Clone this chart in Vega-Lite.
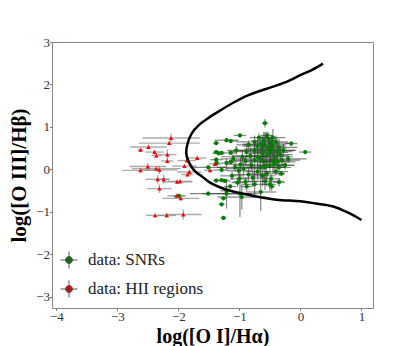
{
 "$schema": "https://vega.github.io/schema/vega-lite/v6.json",
 "width": 321, "height": 266, "autosize": "none",
 "padding": {"left": 52, "top": 42, "right": 42, "bottom": 38},
 "background": "white",
 "config": {
  "view": {"stroke": "#888", "strokeWidth": 1},
  "axis": {"domain": false, "grid": false, "tickColor": "#777", "tickSize": 2.5, "labelFont": "Liberation Serif", "labelFontSize": 13, "labelColor": "#333", "labelPadding": 0, "format": "d", "titleFont": "Liberation Serif", "titleFontSize": 20, "titleFontWeight": "bold", "titleColor": "#000"},
  "axisX": {"titleY": 34, "titleBaseline": "alphabetic"},
  "axisY": {"titlePadding": 6, "titleFontSize": 21},
  "legend": {"labelFont": "Liberation Serif", "labelFontSize": 17, "labelColor": "#222", "symbolSize": 289, "symbolType": "M-1,0L1,0M0,-1L0,1M0.4,0A0.4,0.4,0,1,1,-0.4,0A0.4,0.4,0,1,1,0.4,0Z", "symbolStrokeColor": "#444", "symbolStrokeWidth": 0.9, "symbolOpacity": 1, "rowPadding": 7, "labelOffset": 10}
 },
 "datasets": {
  "pts": [
   {"s":"data: SNRs","x":-0.58,"y":1.09,"xe":0.05,"ye":0.1},
   {"s":"data: SNRs","x":-0.99,"y":0.80,"xe":0.1,"ye":0.05},
   {"s":"data: SNRs","x":-1.38,"y":0.62,"xe":0.05,"ye":0.05},
   {"s":"data: SNRs","x":-1.21,"y":0.69,"xe":0.2,"ye":0.05},
   {"s":"data: SNRs","x":-1.14,"y":0.67,"xe":0.1,"ye":0.05},
   {"s":"data: SNRs","x":-0.15,"y":0.61,"xe":0.1,"ye":0.05},
   {"s":"data: SNRs","x":0.08,"y":0.41,"xe":0.1,"ye":0.05},
   {"s":"data: SNRs","x":-1.34,"y":0.38,"xe":0.1,"ye":0.05},
   {"s":"data: SNRs","x":-1.29,"y":0.39,"xe":0.05,"ye":0.05},
   {"s":"data: SNRs","x":-1.38,"y":0.41,"xe":0.05,"ye":0.05},
   {"s":"data: SNRs","x":-1.14,"y":0.39,"xe":0.1,"ye":0.05},
   {"s":"data: SNRs","x":-1.38,"y":0.23,"xe":0.1,"ye":0.05},
   {"s":"data: SNRs","x":-1.37,"y":0.15,"xe":0.05,"ye":0.05},
   {"s":"data: SNRs","x":-1.21,"y":0.15,"xe":0.1,"ye":0.1},
   {"s":"data: SNRs","x":-1.14,"y":0.18,"xe":0.1,"ye":0.05},
   {"s":"data: SNRs","x":-1.29,"y":-0.01,"xe":0.1,"ye":0.05},
   {"s":"data: SNRs","x":-1.07,"y":0.05,"xe":0.3,"ye":0.1},
   {"s":"data: SNRs","x":-1.01,"y":-0.03,"xe":0.2,"ye":0.1},
   {"s":"data: SNRs","x":-0.93,"y":0.02,"xe":0.3,"ye":0.15},
   {"s":"data: SNRs","x":-1.38,"y":-0.26,"xe":0.05,"ye":0.05},
   {"s":"data: SNRs","x":-1.29,"y":-0.25,"xe":0.1,"ye":0.05},
   {"s":"data: SNRs","x":-1.24,"y":-0.27,"xe":0.1,"ye":0.05},
   {"s":"data: SNRs","x":-1.0,"y":-0.22,"xe":0.15,"ye":0.1},
   {"s":"data: SNRs","x":-1.03,"y":-0.31,"xe":0.1,"ye":0.1},
   {"s":"data: SNRs","x":-0.90,"y":-0.29,"xe":0.2,"ye":0.1},
   {"s":"data: SNRs","x":-1.21,"y":-0.50,"xe":0.1,"ye":0.1},
   {"s":"data: SNRs","x":-1.15,"y":-0.40,"xe":0.1,"ye":0.05},
   {"s":"data: SNRs","x":-1.51,"y":-0.57,"xe":0.3,"ye":0.05},
   {"s":"data: SNRs","x":-1.51,"y":0.05,"xe":0.3,"ye":0.05},
   {"s":"data: SNRs","x":-1.99,"y":-0.62,"xe":0.1,"ye":0.05},
   {"s":"data: SNRs","x":-1.21,"y":-0.57,"xe":0.4,"ye":0.35},
   {"s":"data: SNRs","x":-0.99,"y":-0.57,"xe":0.3,"ye":0.55},
   {"s":"data: SNRs","x":-0.96,"y":-0.65,"xe":0.4,"ye":0.3},
   {"s":"data: SNRs","x":-0.65,"y":-0.53,"xe":0.25,"ye":0.45},
   {"s":"data: SNRs","x":-1.26,"y":-0.68,"xe":0.05,"ye":0.05},
   {"s":"data: SNRs","x":-1.29,"y":-0.82,"xe":0.05,"ye":0.05},
   {"s":"data: SNRs","x":-1.26,"y":-1.14,"xe":0.05,"ye":0.05},
   {"s":"data: SNRs","x":-0.48,"y":-0.22,"xe":0.15,"ye":0.1},
   {"s":"data: SNRs","x":-0.47,"y":-0.40,"xe":0.05,"ye":0.1},
   {"s":"data: SNRs","x":-0.31,"y":-0.10,"xe":0.05,"ye":0.05},
   {"s":"data: SNRs","x":-0.75,"y":-0.35,"xe":0.2,"ye":0.3},
   {"s":"data: SNRs","x":-0.58,"y":-0.28,"xe":0.3,"ye":0.2},
   {"s":"data: SNRs","x":-0.85,"y":-0.12,"xe":0.3,"ye":0.15},
   {"s":"data: SNRs","x":-0.70,"y":-0.05,"xe":0.2,"ye":0.2},
   {"s":"data: SNRs","x":-0.55,"y":-0.10,"xe":0.3,"ye":0.3},
   {"s":"data: SNRs","x":-0.40,"y":-0.05,"xe":0.2,"ye":0.1},
   {"s":"data: SNRs","x":-0.65,"y":0.05,"xe":0.4,"ye":0.2},
   {"s":"data: SNRs","x":-0.80,"y":0.10,"xe":0.3,"ye":0.15},
   {"s":"data: SNRs","x":-0.50,"y":0.10,"xe":0.4,"ye":0.2},
   {"s":"data: SNRs","x":-0.35,"y":0.05,"xe":0.2,"ye":0.2},
   {"s":"data: SNRs","x":-0.25,"y":0.10,"xe":0.15,"ye":0.1},
   {"s":"data: SNRs","x":-0.90,"y":0.20,"xe":0.2,"ye":0.1},
   {"s":"data: SNRs","x":-0.75,"y":0.22,"xe":0.35,"ye":0.3},
   {"s":"data: SNRs","x":-0.60,"y":0.18,"xe":0.3,"ye":0.2},
   {"s":"data: SNRs","x":-0.45,"y":0.20,"xe":0.3,"ye":0.3},
   {"s":"data: SNRs","x":-0.30,"y":0.22,"xe":0.3,"ye":0.15},
   {"s":"data: SNRs","x":-0.20,"y":0.25,"xe":0.3,"ye":0.1},
   {"s":"data: SNRs","x":-0.95,"y":0.30,"xe":0.35,"ye":0.15},
   {"s":"data: SNRs","x":-0.82,"y":0.32,"xe":0.3,"ye":0.2},
   {"s":"data: SNRs","x":-0.70,"y":0.30,"xe":0.4,"ye":0.3},
   {"s":"data: SNRs","x":-0.55,"y":0.32,"xe":0.35,"ye":0.25},
   {"s":"data: SNRs","x":-0.42,"y":0.30,"xe":0.3,"ye":0.2},
   {"s":"data: SNRs","x":-0.33,"y":0.35,"xe":0.2,"ye":0.15},
   {"s":"data: SNRs","x":-0.62,"y":0.38,"xe":0.3,"ye":0.2},
   {"s":"data: SNRs","x":-0.50,"y":0.40,"xe":0.3,"ye":0.25},
   {"s":"data: SNRs","x":-0.38,"y":0.42,"xe":0.25,"ye":0.2},
   {"s":"data: SNRs","x":-0.88,"y":0.42,"xe":0.3,"ye":0.15},
   {"s":"data: SNRs","x":-0.75,"y":0.45,"xe":0.35,"ye":0.2},
   {"s":"data: SNRs","x":-0.62,"y":0.48,"xe":0.3,"ye":0.3},
   {"s":"data: SNRs","x":-0.52,"y":0.50,"xe":0.3,"ye":0.2},
   {"s":"data: SNRs","x":-0.45,"y":0.55,"xe":0.2,"ye":0.25},
   {"s":"data: SNRs","x":-0.35,"y":0.52,"xe":0.3,"ye":0.2},
   {"s":"data: SNRs","x":-0.70,"y":0.55,"xe":0.25,"ye":0.2},
   {"s":"data: SNRs","x":-0.58,"y":0.58,"xe":0.35,"ye":0.3},
   {"s":"data: SNRs","x":-0.48,"y":0.62,"xe":0.3,"ye":0.2},
   {"s":"data: SNRs","x":-0.40,"y":0.65,"xe":0.2,"ye":0.15},
   {"s":"data: SNRs","x":-0.85,"y":0.58,"xe":0.2,"ye":0.1},
   {"s":"data: SNRs","x":-0.60,"y":0.68,"xe":0.2,"ye":0.2},
   {"s":"data: SNRs","x":-0.52,"y":0.72,"xe":0.15,"ye":0.15},
   {"s":"data: SNRs","x":-0.45,"y":0.75,"xe":0.2,"ye":0.2},
   {"s":"data: SNRs","x":-0.75,"y":0.65,"xe":0.3,"ye":0.15},
   {"s":"data: SNRs","x":-0.55,"y":0.80,"xe":0.1,"ye":0.1},
   {"s":"data: SNRs","x":-0.68,"y":0.75,"xe":0.15,"ye":0.1},
   {"s":"data: SNRs","x":-0.48,"y":0.45,"xe":0.4,"ye":0.3},
   {"s":"data: SNRs","x":-0.66,"y":0.25,"xe":0.3,"ye":0.3},
   {"s":"data: SNRs","x":-0.58,"y":0.05,"xe":0.3,"ye":0.25},
   {"s":"data: SNRs","x":-0.43,"y":0.12,"xe":0.2,"ye":0.2},
   {"s":"data: SNRs","x":-0.78,"y":-0.20,"xe":0.25,"ye":0.2},
   {"s":"data: SNRs","x":-0.62,"y":-0.15,"xe":0.2,"ye":0.25},
   {"s":"data: SNRs","x":-0.35,"y":-0.30,"xe":0.1,"ye":0.1},
   {"s":"data: SNRs","x":-1.05,"y":0.45,"xe":0.15,"ye":0.1},
   {"s":"data: SNRs","x":-1.10,"y":0.25,"xe":0.2,"ye":0.1},
   {"s":"data: SNRs","x":-0.98,"y":0.12,"xe":0.2,"ye":0.15},
   {"s":"data: SNRs","x":-0.65,"y":0.60,"xe":0.3,"ye":0.2},
   {"s":"data: SNRs","x":-0.38,"y":0.18,"xe":0.3,"ye":0.2},
   {"s":"data: SNRs","x":-0.28,"y":0.45,"xe":0.2,"ye":0.15},
   {"s":"data: SNRs","x":-0.50,"y":-0.35,"xe":0.1,"ye":0.15},
   {"s":"data: SNRs","x":-0.88,"y":-0.40,"xe":0.1,"ye":0.1},
   {"s":"data: SNRs","x":-1.12,"y":-0.15,"xe":0.2,"ye":0.1},
   {"s":"data: HII regions","x":-2.12,"y":0.74,"xe":0.47,"ye":0.1},
   {"s":"data: HII regions","x":-2.15,"y":0.62,"xe":0.5,"ye":0.05},
   {"s":"data: HII regions","x":-2.49,"y":0.53,"xe":0.3,"ye":0.05},
   {"s":"data: HII regions","x":-2.62,"y":0.46,"xe":0.05,"ye":0.05},
   {"s":"data: HII regions","x":-2.39,"y":0.41,"xe":0.15,"ye":0.05},
   {"s":"data: HII regions","x":-2.36,"y":0.33,"xe":0.08,"ye":0.05},
   {"s":"data: HII regions","x":-2.18,"y":0.35,"xe":0.15,"ye":0.12},
   {"s":"data: HII regions","x":-2.18,"y":0.20,"xe":0.1,"ye":0.05},
   {"s":"data: HII regions","x":-1.69,"y":0.27,"xe":0.15,"ye":0.05},
   {"s":"data: HII regions","x":-1.86,"y":0.21,"xe":0.15,"ye":0.05},
   {"s":"data: HII regions","x":-1.90,"y":0.08,"xe":0.2,"ye":0.05},
   {"s":"data: HII regions","x":-2.50,"y":0.07,"xe":0.3,"ye":0.08},
   {"s":"data: HII regions","x":-2.62,"y":-0.02,"xe":0.3,"ye":0.05},
   {"s":"data: HII regions","x":-2.36,"y":0.02,"xe":0.4,"ye":0.05},
   {"s":"data: HII regions","x":-2.31,"y":-0.01,"xe":0.3,"ye":0.1},
   {"s":"data: HII regions","x":-1.82,"y":-0.06,"xe":0.2,"ye":0.05},
   {"s":"data: HII regions","x":-1.85,"y":-0.12,"xe":0.1,"ye":0.05},
   {"s":"data: HII regions","x":-2.34,"y":-0.23,"xe":0.2,"ye":0.1},
   {"s":"data: HII regions","x":-2.24,"y":-0.23,"xe":0.1,"ye":0.1},
   {"s":"data: HII regions","x":-2.02,"y":-0.29,"xe":0.25,"ye":0.05},
   {"s":"data: HII regions","x":-1.97,"y":-0.28,"xe":0.2,"ye":0.05},
   {"s":"data: HII regions","x":-2.31,"y":-0.45,"xe":0.2,"ye":0.1},
   {"s":"data: HII regions","x":-2.03,"y":-0.62,"xe":0.15,"ye":0.05},
   {"s":"data: HII regions","x":-1.96,"y":-0.68,"xe":0.3,"ye":0.05},
   {"s":"data: HII regions","x":-2.38,"y":-1.08,"xe":0.15,"ye":0.05},
   {"s":"data: HII regions","x":-2.19,"y":-1.08,"xe":0.15,"ye":0.05},
   {"s":"data: HII regions","x":-1.92,"y":-1.06,"xe":0.3,"ye":0.12},
   {"s":"data: HII regions","x":-1.40,"y":0.13,"xe":0.1,"ye":0.05},
   {"s":"data: HII regions","x":-1.48,"y":-0.02,"xe":0.1,"ye":0.05}
  ],
  "curve": [
   {"i":0,"x":1.0,"y":-1.19},{"i":1,"x":0.8,"y":-1.03},{"i":2,"x":0.54,"y":-0.87},{"i":3,"x":0.25,"y":-0.80},
   {"i":4,"x":0.0,"y":-0.75},{"i":5,"x":-0.39,"y":-0.71},{"i":6,"x":-0.7,"y":-0.64},{"i":7,"x":-0.93,"y":-0.57},
   {"i":8,"x":-1.10,"y":-0.52},{"i":9,"x":-1.3,"y":-0.43},{"i":10,"x":-1.48,"y":-0.31},{"i":11,"x":-1.60,"y":-0.18},
   {"i":12,"x":-1.72,"y":-0.05},{"i":13,"x":-1.80,"y":0.10},{"i":14,"x":-1.85,"y":0.25},{"i":15,"x":-1.87,"y":0.40},
   {"i":16,"x":-1.85,"y":0.60},{"i":17,"x":-1.78,"y":0.85},{"i":18,"x":-1.66,"y":1.05},{"i":19,"x":-1.50,"y":1.22},
   {"i":20,"x":-1.30,"y":1.40},{"i":21,"x":-1.10,"y":1.57},{"i":22,"x":-0.85,"y":1.75},{"i":23,"x":-0.55,"y":1.90},
   {"i":24,"x":-0.25,"y":2.05},{"i":25,"x":0.0,"y":2.22},{"i":26,"x":0.2,"y":2.35},{"i":27,"x":0.37,"y":2.49}
  ]
 },
 "layer": [
  {"data": {"name": "pts"}, "transform": [{"filter": "datum.s == 'data: SNRs'"}],
   "mark": {"type": "errorbar", "color": "#333", "opacity": 0.6, "thickness": 1.2},
   "encoding": {"x": {"field": "x", "type": "quantitative", "scale": {"domain": [-4.07, 1.19], "nice": false, "zero": false}, "axis": {"values": [-4,-3,-2,-1,0,1]}, "title": "log([O I]/Hα)"},
    "xError": {"field": "xe"},
    "y": {"field": "y", "type": "quantitative", "scale": {"domain": [-3.26, 3.0], "nice": false, "zero": false}, "axis": {"values": [-3,-2,-1,0,1,2,3]}, "title": "log([O III]/Hβ)"}}},
  {"data": {"name": "pts"}, "transform": [{"filter": "datum.s == 'data: SNRs'"}],
   "mark": {"type": "errorbar", "color": "#333", "opacity": 0.6, "thickness": 1.2},
   "encoding": {"x": {"field": "x", "type": "quantitative", "title": "log([O I]/Hα)"},
    "y": {"field": "y", "type": "quantitative", "title": "log([O III]/Hβ)"},
    "yError": {"field": "ye"}}},
  {"data": {"name": "pts"}, "transform": [{"filter": "datum.s == 'data: HII regions'"}],
   "mark": {"type": "errorbar", "color": "#888", "opacity": 0.7, "thickness": 1.4},
   "encoding": {"x": {"field": "x", "type": "quantitative", "title": "log([O I]/Hα)"},
    "xError": {"field": "xe"},
    "y": {"field": "y", "type": "quantitative", "title": "log([O III]/Hβ)"}}},
  {"data": {"name": "pts"}, "transform": [{"filter": "datum.s == 'data: HII regions'"}],
   "mark": {"type": "errorbar", "color": "#888", "opacity": 0.7, "thickness": 1.4},
   "encoding": {"x": {"field": "x", "type": "quantitative", "title": "log([O I]/Hα)"},
    "y": {"field": "y", "type": "quantitative", "title": "log([O III]/Hβ)"},
    "yError": {"field": "ye"}}},
  {"data": {"name": "pts"}, "transform": [{"filter": "datum.s == 'data: SNRs'"}],
   "mark": {"type": "point", "shape": "circle", "filled": true, "opacity": 1, "size": 18},
   "encoding": {"x": {"field": "x", "type": "quantitative", "title": "log([O I]/Hα)"},
    "y": {"field": "y", "type": "quantitative", "title": "log([O III]/Hβ)"},
    "color": {"field": "s", "type": "nominal", "scale": {"domain": ["data: SNRs", "data: HII regions"], "range": ["#008000", "#ff0000"]},
     "legend": {"title": null, "orient": "bottom-left", "offset": 6, "padding": 2}}}},
  {"data": {"name": "pts"}, "transform": [{"filter": "datum.s == 'data: HII regions'"}],
   "mark": {"type": "point", "shape": "triangle-up", "filled": true, "opacity": 1, "size": 20},
   "encoding": {"x": {"field": "x", "type": "quantitative", "title": "log([O I]/Hα)"},
    "y": {"field": "y", "type": "quantitative", "title": "log([O III]/Hβ)"},
    "color": {"field": "s", "type": "nominal"}}},
  {"data": {"name": "curve"},
   "mark": {"type": "line", "color": "black", "strokeWidth": 2.5, "interpolate": "catmull-rom"},
   "encoding": {"x": {"field": "x", "type": "quantitative", "title": "log([O I]/Hα)"},
    "y": {"field": "y", "type": "quantitative", "title": "log([O III]/Hβ)"},
    "order": {"field": "i", "type": "quantitative"}}}
 ]
}
